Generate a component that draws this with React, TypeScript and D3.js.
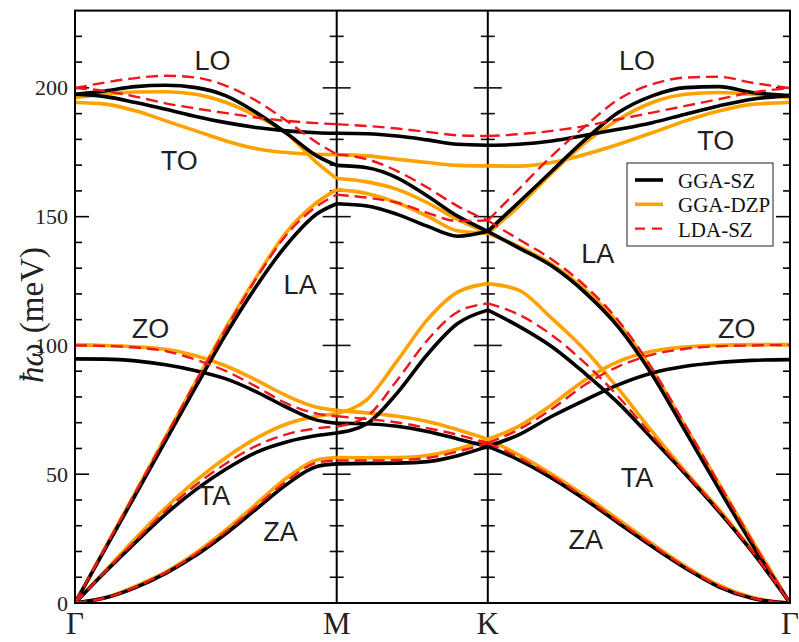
import React from 'react';
import * as d3 from 'd3';

// path coordinate: Γ=0, M=√3/2, K=M+1/2, Γ=K+1 ; segments share the M and K points
const kPoints = [
  0, 0.1, 0.2, 0.3, 0.4, 0.5, 0.6, 0.7, 0.8, 0.866,
  0.866, 0.966, 1.066, 1.166, 1.266, 1.366,
  1.366, 1.468, 1.578, 1.689, 1.799, 1.91, 2.02, 2.13, 2.24, 2.366,
];
const segments = [[0, 10], [10, 16], [16, 26]];

const symPoints = [0, 0.866, 1.366, 2.366];
const symLabels = ['Γ', 'M', 'K', 'Γ'];

const yTickLabels = [0, 50, 100, 150, 200];

// bands (meV), one row per branch followed through the path
const ggaSZ = [
  [0, 2, 6, 11.5, 18.5, 27, 36.5, 46, 53, 54, 54, 54.2, 54.3, 54.9, 57.2, 60.8, 60.8, 55.6, 48.5, 40.1, 31, 21.9, 13.5, 6.3, 1.8, 0],
  [0, 12, 23.5, 34.5, 44, 52, 58.5, 62.5, 65, 66, 66, 69.6, 81.5, 96.5, 108.5, 113.7, 113.7, 107.5, 99.5, 89, 77.5, 63.8, 50, 35.6, 20, 0],
  [0, 21, 42, 63, 84, 104.5, 123, 139, 151, 155, 155, 154.1, 150.9, 146.3, 142.4, 144.3, 144.3, 155.5, 167.7, 180, 190.5, 196.9, 200.1, 200.5, 198.2, 197],
  [94.8, 94.7, 94, 92.5, 90.2, 87, 82, 76, 71, 69.8, 69.8, 69.6, 68.6, 66.6, 63.7, 60.8, 60.8, 65.3, 72.5, 78.9, 84.8, 89.3, 91.9, 93.4, 94.2, 94.5],
  [197.5, 196.6, 194.3, 191.7, 188.9, 186.5, 184.6, 183.3, 182.6, 182.4, 182.4, 182.2, 181.3, 179.8, 178.1, 177.7, 177.7, 178.1, 179.4, 181.6, 183.9, 186.5, 189.8, 193, 195.6, 197],
  [197.5, 198.8, 200.5, 201, 200.1, 196.9, 190.4, 182.4, 173.6, 169.9, 169.9, 169, 165.1, 158, 150.2, 144.3, 144.3, 137.9, 130.8, 120.4, 107, 88.6, 66.6, 44.5, 22.9, 0],
];

const ggaDZP = [
  [0, 2, 6.5, 12, 19.5, 28.5, 38.5, 48.5, 55.5, 56.5, 56.5, 56.4, 56.5, 57.3, 59.8, 63.6, 63.6, 57.5, 50, 41.5, 32.3, 23, 14.3, 7, 2.2, 0],
  [0, 12.5, 25, 37, 47.5, 56.5, 64, 69.5, 72.5, 73.5, 73.5, 79, 94, 110, 120.7, 124, 124, 121.5, 110.5, 98, 83, 66.5, 51, 36.5, 20.5, 0],
  [0, 21.5, 43, 64.5, 86, 107, 126.5, 144, 155.5, 160.5, 160.5, 159, 155.4, 150.2, 144.5, 143.5, 143.5, 154, 167, 178.8, 187.8, 194.3, 197.5, 198.2, 197.5, 196.2],
  [100.2, 100, 99.5, 98.5, 96, 92, 86.5, 80.5, 76, 74.8, 74.8, 73.8, 72.5, 70.5, 67.3, 63.6, 63.6, 68.6, 77, 86.7, 93.8, 97.7, 99.4, 100.1, 100.3, 100.3],
  [194.3, 193.7, 191.1, 187.2, 183.3, 179.4, 176.4, 174.9, 174.2, 174.1, 174.1, 173.6, 172.3, 171, 169.9, 169.7, 169.7, 169.6, 171, 174.2, 178.1, 182.6, 187.2, 191, 193.6, 194.3],
  [196.2, 197.5, 198.4, 198.5, 197.5, 194.3, 189.1, 182.4, 171, 164.8, 164.8, 163.5, 160.6, 155.4, 148.9, 143.5, 143.5, 138.5, 131.5, 121.5, 108.5, 90.5, 68.5, 46.5, 24.5, 0],
];

const ldaSZ = [
  [0, 2, 6.2, 11.8, 19, 27.8, 37.5, 47.3, 54.5, 55.3, 55.3, 55.3, 55.5, 56.3, 58.8, 62.1, 62.1, 56.5, 49.2, 40.8, 31.6, 22.5, 13.9, 6.6, 2, 0],
  [0, 12.2, 24.2, 35.8, 45.8, 54.2, 61, 65.5, 67.8, 68.5, 68.5, 72.5, 86.5, 102, 113, 116.3, 116.3, 112, 104, 93, 80, 65, 50.5, 36, 20.2, 0],
  [0, 21.5, 43, 64.5, 86, 106.5, 126, 143, 154, 158.5, 158.5, 157.4, 155.4, 151.5, 148.3, 148.5, 148.5, 160.6, 173.6, 185.2, 195.6, 201.4, 204, 204.3, 202, 199.9],
  [100, 99.8, 99.2, 97.8, 94.5, 90, 84, 77.5, 73.5, 72.5, 72.5, 71.4, 70.1, 67.9, 65.3, 62.1, 62.1, 67.3, 75.3, 84.8, 91.9, 96.4, 98.7, 99.7, 100, 100.2],
  [199.9, 198.8, 196.6, 194, 192, 190.2, 188.5, 187.2, 186.3, 185.9, 185.9, 185.2, 184.2, 182.9, 181.6, 181.3, 181.3, 182, 183.3, 185.2, 187.8, 190.4, 193, 195.6, 198.2, 199.9],
  [199.9, 202.1, 203.8, 204.7, 204, 200.8, 195, 187.2, 178.8, 174.2, 174.2, 172.3, 167.7, 161.3, 154.1, 148.5, 148.5, 141.2, 133.4, 123, 109.5, 91, 69, 46.5, 24.2, 0],
];

const seriesNames = ['GGA-SZ', 'GGA-DZP', 'LDA-SZ'];

// branch labels: [text, k, meV]
const branchLabels: [string, number, number][] = [
  ['LO', 0.455, 207], ['TO', 0.345, 168], ['LA', 0.745, 120], ['ZO', 0.25, 103],
  ['TA', 0.46, 38], ['ZA', 0.68, 24],
  ['LO', 1.86, 207], ['TO', 2.12, 176], ['LA', 1.73, 132], ['ZO', 2.19, 103],
  ['TA', 1.86, 45], ['ZA', 1.69, 21],
];

const W = 799;
const H = 642;
const left = 75, right = 790, top = 10.6, bottom = 603;

const App = () => {
  const x = d3.scaleLinear().domain([0, 2.366]).range([left, right]);
  const y = d3.scaleLinear().domain([0, 230]).range([bottom, top]);

  const line = d3.line<[number, number]>()
    .x(d => x(d[0]))
    .y(d => y(d[1]))
    .curve(d3.curveMonotoneX);

  const bandPaths = (bands: number[][]) =>
    bands.flatMap(b => segments.map(([s, e]) =>
      line(d3.range(s, e).map(i => [kPoints[i], b[i]] as [number, number])) || ''));

  const styles = [
    { data: ggaDZP, color: '#ffa200', width: 3.6, dash: undefined },
    { data: ggaSZ, color: '#000000', width: 3.6, dash: undefined },
    { data: ldaSZ, color: '#f0161e', width: 2.4, dash: '12,6' },
  ];

  const minor = d3.range(10, 230, 10);

  return (
    <svg width={W} height={H} style={{ position: 'absolute', left: 0, top: 0, background: '#fff' }}>
      <rect x={0} y={0} width={W} height={H} fill="#fff" />
      <defs>
        <clipPath id="plot">
          <rect x={left} y={top} width={right - left} height={bottom - top} />
        </clipPath>
      </defs>

      {/* ticks on frame and on the M, K lines */}
      {minor.map(v => {
        const major = v % 50 === 0;
        const len = major ? 14 : 7;
        return (
          <g key={v} stroke="#000" strokeWidth={1.6}>
            <line x1={left} x2={left + len} y1={y(v)} y2={y(v)} />
            <line x1={right - len} x2={right} y1={y(v)} y2={y(v)} />
            {[symPoints[1], symPoints[2]].map(k => (
              <line key={k} x1={x(k) - len} x2={x(k) + len} y1={y(v)} y2={y(v)} stroke="#111" />
            ))}
          </g>
        );
      })}

      {[symPoints[1], symPoints[2]].map(k => (
        <line key={k} x1={x(k)} x2={x(k)} y1={top} y2={bottom} stroke="#000" strokeWidth={2} />
      ))}

      <g clipPath="url(#plot)" fill="none">
        {styles.map((s, si) => bandPaths(s.data).map((d, i) => (
          <path key={si + '-' + i} d={d} stroke={s.color} strokeWidth={s.width}
            strokeDasharray={s.dash} strokeLinejoin="round" />
        )))}
      </g>

      <rect x={left} y={top} width={right - left} height={bottom - top} fill="none" stroke="#000" strokeWidth={2} />

      {yTickLabels.map(v => (
        <text key={v} x={68} y={y(v) + 7.5} textAnchor="end" fontFamily="Liberation Serif" fontSize={22} fill="#222">{v}</text>
      ))}

      {symPoints.map((k, i) => (
        <text key={i} x={x(k)} y={634} textAnchor="middle" fontFamily="Liberation Serif" fontSize={31} fill="#222">{symLabels[i]}</text>
      ))}

      <text transform="translate(43,315) rotate(-90)" textAnchor="middle" fontFamily="Liberation Serif" fontSize={33}
        fill="#222">
        <tspan fontStyle="italic">ħω</tspan><tspan dx={10}>(meV)</tspan>
      </text>

      {branchLabels.map(([t, k, v], i) => (
        <text key={i} x={x(k)} y={y(v)} textAnchor="middle" fontFamily="Liberation Sans" fontSize={27} fill="#231f20">{t}</text>
      ))}

      <g>
        <rect x={627} y={163} width={146} height={83} fill="#fff" stroke="#222" strokeWidth={1} />
        {styles.map((s, i) => {
          const order = [1, 0, 2][i];
          const ly = 180 + order * 24.3;
          return (
            <g key={i}>
              <line x1={635} x2={663} y1={ly} y2={ly} stroke={s.color} strokeWidth={s.width}
                strokeDasharray={s.dash ? '10,7' : undefined} />
              <text x={678} y={ly + 8} fontFamily="Liberation Serif" fontSize={21} fill="#111">{seriesNames[order]}</text>
            </g>
          );
        })}
      </g>
    </svg>
  );
};

export default App;
